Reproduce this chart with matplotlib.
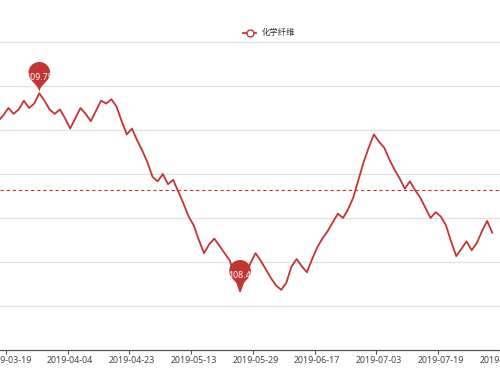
import numpy as np
import pandas as pd
import matplotlib
matplotlib.use('Agg')
import matplotlib.pyplot as plt
from matplotlib.path import Path
from matplotlib.patches import PathPatch
from matplotlib.lines import Line2D
import matplotlib.transforms as mtrans

# ---------------- data ----------------
series_name = '化学纤维'
holidays = ['2019-04-05', '2019-05-01', '2019-05-02', '2019-05-03', '2019-06-07']
extra_workdays = ['2019-04-28']
_days = pd.bdate_range('2019-03-15', '2019-08-06')
_days = _days[~_days.isin(pd.to_datetime(holidays))].union(pd.to_datetime(extra_workdays))
dates = [d.strftime('%Y-%m-%d') for d in _days]

values = [
    109.56, 109.60,
    109.65, 109.61, 109.64, 109.70, 109.65, 109.68, 109.75, 109.70, 109.64, 109.61,
    109.64, 109.58, 109.51, 109.58, 109.65, 109.61, 109.56, 109.63, 109.70, 109.68,
    109.71, 109.66, 109.56, 109.47, 109.51, 109.43, 109.36, 109.28, 109.18, 109.15,
    109.20, 109.13, 109.16, 109.08, 109.00, 108.91, 108.85, 108.75, 108.66, 108.72,
    108.76, 108.71, 108.66, 108.61, 108.51, 108.40, 108.50, 108.59, 108.66, 108.61,
    108.55, 108.49, 108.44, 108.41, 108.46, 108.57, 108.62, 108.57, 108.53, 108.62,
    108.70, 108.76, 108.81, 108.87, 108.93, 108.90, 108.96, 109.04, 109.16, 109.28,
    109.38, 109.47, 109.42, 109.38, 109.30, 109.23, 109.17, 109.10, 109.15, 109.09,
    109.04, 108.97, 108.90, 108.94, 108.91, 108.85, 108.74, 108.64, 108.69, 108.74,
    108.68, 108.73, 108.81, 108.88, 108.80,
]
avg_value = 109.09          # average line
y_min, y_max, y_step = 108.0, 110.1, 0.3
first_label = '2019-03-19'
label_every = 12

# ---------------- style / layout ----------------
RED = '#c23531'
W, H, DPI = 500, 375, 100
STEP_PX = 5.26     # pixels per category
FIRST_PX = 8.6     # pixel x of first labelled category
LABEL_FONT = ['Noto Sans', 'DejaVu Sans']
CJK_FONT = ['Noto Sans CJK SC', 'DejaVu Sans']

fig = plt.figure(figsize=(W / DPI, H / DPI), dpi=DPI, facecolor='white')
ax = fig.add_axes([0, 25 / H, 1, 308 / H])
ax.set_facecolor('white')

i0 = dates.index(first_label)
ax.set_xlim(i0 - FIRST_PX / STEP_PX, i0 + (W - FIRST_PX) / STEP_PX)
ax.set_ylim(y_min, y_max)
ax.set_autoscale_on(False)

# grid lines
yticks = np.round(np.arange(y_min, y_max + 1e-9, y_step), 2)
for yv in yticks[1:]:
    ax.axhline(yv, color='#e2e2e2', lw=0.9, zorder=0, clip_on=False)
ax.set_yticks([])

for s in ['left', 'right', 'top']:
    ax.spines[s].set_visible(False)
ax.spines['bottom'].set_color('#555555')
ax.spines['bottom'].set_linewidth(0.9)

# category labels / ticks
label_pos = list(range(i0 % label_every, len(dates), label_every))
ax.set_xticks([p - 0.5 for p in label_pos])
ax.set_xticklabels([])
ax.tick_params(axis='x', length=2.6, width=0.8, color='#555555')
for p in label_pos:
    ax.annotate(dates[p], xy=(p, 0), xycoords=('data', 'axes fraction'),
                xytext=(0, -4.3), textcoords='offset points', ha='center', va='top',
                fontsize=6.4, color='#444444', family=LABEL_FONT, annotation_clip=False)

# series line
x = np.arange(len(values))
ax.plot(x, values, color=RED, lw=1.3, solid_joinstyle='round', zorder=3)

# average mark line
ax.axhline(avg_value, color=RED, lw=0.8, ls=(0, (3, 2.5)), zorder=2)


# mark points (pins)
def pin_path(size):
    w = size * 3 / 5
    h = max(w, size)
    r = w / 2
    dy = r * r / (h - r)
    cy = h - r - dy
    a = np.arcsin(dy / r)
    dx = np.cos(a) * r
    tx, ty = np.sin(a), np.cos(a)
    c1, c2 = r * 0.6, r * 0.7
    arc = Path.arc(-np.degrees(a), 180 + np.degrees(a))
    verts = [tuple(v) for v in (arc.vertices * r + np.array([0, cy]))]
    codes = list(arc.codes)
    lr = (dx, cy - dy)
    verts += [(-dx + tx * c1, cy - dy - ty * c1), (0, c2), (0, 0)]
    codes += [Path.CURVE4] * 3
    verts += [(0, c2), (dx - tx * c1, cy - dy - ty * c1), lr]
    codes += [Path.CURVE4] * 3
    verts.append(lr)
    codes.append(Path.CLOSEPOLY)
    return Path(np.array(verts), codes), (cy + r) / 2


PIN_SIZE = 36
pin, label_off = pin_path(PIN_SIZE)
imax = int(np.argmax(values))
imin = int(np.argmin(values))
for idx in (imax, imin):
    v = values[idx]
    tr = (mtrans.Affine2D().scale(1 / DPI) + fig.dpi_scale_trans
          + mtrans.ScaledTranslation(idx, v, ax.transData))
    patch = PathPatch(pin, transform=tr, facecolor=RED, edgecolor='none',
                      zorder=5, clip_on=False)
    ax.add_artist(patch)
    ax.annotate(f'{round(v, 2):g}', xy=(idx, v), xytext=(0, label_off * 72 / DPI),
                textcoords='offset points', ha='center', va='center', color='white',
                fontsize=6.4, family=LABEL_FONT, zorder=6, annotation_clip=False)

# legend
ly = 1 - 33 / H
fig.add_artist(Line2D([243 / W, 256 / W], [ly, ly], color=RED, lw=1.3,
                      transform=fig.transFigure))
fig.add_artist(Line2D([249.5 / W], [ly], marker='o', ms=5, mfc='white', mec=RED,
                      mew=1.0, transform=fig.transFigure))
fig.text(262 / W, ly, series_name, fontsize=6, color='#333333', va='center',
         ha='left', family=CJK_FONT)

fig.savefig('out.png', dpi=DPI, facecolor='white')
